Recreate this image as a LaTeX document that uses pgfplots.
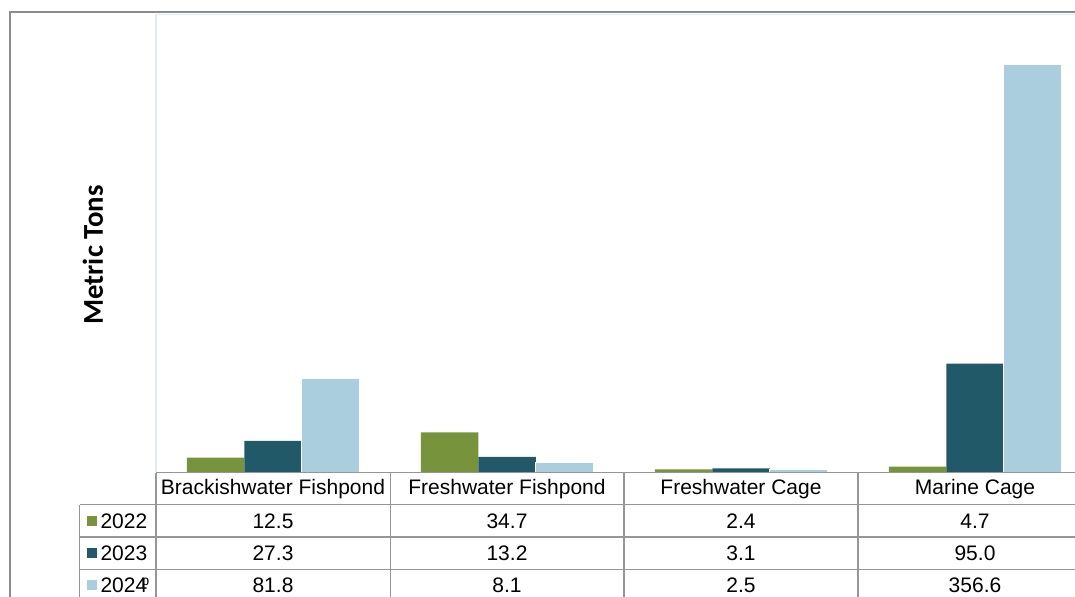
\documentclass[border=0pt]{standalone}
\usepackage{fontspec}
\setmainfont{Liberation Sans}
\newfontfamily\calibri{Carlito}
\usepackage{pgfplots}
\pgfplotsset{compat=1.18}

\definecolor{c22}{RGB}{119,147,60}
\definecolor{c23}{RGB}{33,89,104}
\definecolor{c24}{RGB}{170,206,222}
\definecolor{gridgray}{RGB}{150,150,150}
\definecolor{framegray}{RGB}{140,140,140}
\definecolor{plotedge}{RGB}{218,238,244}

\newcommand{\tabfont}{\fontsize{8.4}{10}\selectfont}

\begin{document}
\begin{tikzpicture}
% whole picture = 1075 x 596 px, 1 px = 0.4pt, origin at top left
\path[use as bounding box, clip] (0pt,0pt) rectangle (430pt,-238.4pt);

\begin{axis}[
    at={(62.4pt,-188.8pt)}, anchor=south west,
    scale only axis,
    width=374.4pt, height=183.2pt,
    xmin=-0.5, xmax=3.5,
    ymin=0, ymax=401,
    hide axis,
    ybar, bar width=0.2457,
]
\addplot[fill=c22, draw=none, bar shift=-0.2457] coordinates {(0,12.5) (1,34.7) (2,2.4) (3,4.7)};
\addplot[fill=c23, draw=none, bar shift=0] coordinates {(0,27.3) (1,13.2) (2,3.1) (3,95.0)};
\addplot[fill=c24, draw=white, line width=0.4pt, bar shift=0.2457] coordinates {(0,81.8) (1,8.1) (2,2.5) (3,356.6)};
\end{axis}

\begin{scope}[x=0.4pt, y=-0.4pt]
% outer chart frame
\draw[framegray, line width=0.9pt] (10,700) -- (10,12) -- (1200,12);
% plot area edge
\draw[plotedge, line width=0.5pt] (156,472) -- (156,14.5) -- (1200,14.5);
% y label
\node[rotate=90, font={\calibri\bfseries\fontsize{11.5}{13}\selectfont}] at (93,255) {Metric Tons};

% data table
\begin{scope}[gridgray, line width=0.6pt]
\draw (156,472.5) -- (1200,472.5);
\draw (79.5,504.5) -- (1200,504.5);
\draw (79.5,537) -- (1200,537);
\draw (79.5,569.5) -- (1200,569.5);
\draw (79.5,504.5) -- (79.5,620);
\foreach \x in {156,390.5,624,858} \draw (\x,472.5) -- (\x,620);
\end{scope}

\begin{scope}[font=\tabfont]
\node at (273,489) {Brackishwater Fishpond};
\node at (507,489) {Freshwater Fishpond};
\node at (741,489) {Freshwater Cage};
\node at (975,489) {Marine Cage};

\fill[c22] (87,516) rectangle (97,526);
\fill[c23] (87,548) rectangle (97,558);
\fill[c24] (87,580) rectangle (97,590);
\node[anchor=west, inner sep=0pt] at (100,521) {2022};
\node[anchor=west, inner sep=0pt] at (100,553) {2023};
\node[anchor=west, inner sep=0pt] at (100,585) {2024\kern-2.2pt\raisebox{2.6pt}{\fontsize{5.5}{6}\selectfont p}};

\node at (273,521) {12.5};
\node at (507,521) {34.7};
\node at (741,521) {2.4};
\node at (975,521) {4.7};
\node at (273,553) {27.3};
\node at (507,553) {13.2};
\node at (741,553) {3.1};
\node at (975,553) {95.0};
\node at (273,585) {81.8};
\node at (507,585) {8.1};
\node at (741,585) {2.5};
\node at (975,585) {356.6};
\end{scope}
\end{scope}
\end{tikzpicture}
\end{document}
